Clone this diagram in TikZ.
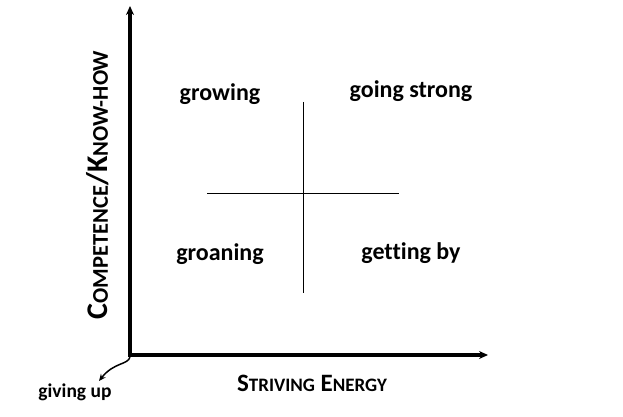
\documentclass[tikz,border=0pt]{standalone}
\usepackage{fontspec}
\setmainfont[Ligatures=NoCommon]{Carlito}
\usetikzlibrary{arrows.meta}
\begin{document}
\begin{tikzpicture}[x=1pt,y=-1pt,
  axis/.style={line width=3.2pt,-{Stealth[length=9pt,width=8pt]}},
  cross/.style={line width=0.9pt},
  quad/.style={font=\bfseries\fontsize{24}{28}\selectfont},
  small/.style={font=\bfseries\fontsize{19.5}{22}\selectfont}]
\useasboundingbox (0,0) rectangle (623,417);
\coordinate (O) at (130,355);
\coordinate (Ytop) at (130,6);
\coordinate (Xend) at (488,355);
\draw[axis] (130,356.6) -- (Ytop);
\draw[axis] (128.4,355) -- (Xend);
\coordinate (hl) at (207,193);
\coordinate (hr) at (399,193);
\coordinate (vt) at (303,102);
\coordinate (vb) at (303,293);
\draw[cross] (hl) -- (hr);
\draw[cross] (vt) -- (vb);
\node[quad] (growing) at (220,94) {growing};
\node[quad] (strong) at (411,91) {going strong};
\node[quad] (groaning) at (220,254) {groaning};
\node[quad] (getting) at (411,253) {getting by};
\node[font=\bfseries\fontsize{30}{34}\selectfont,rotate=90] (ylab) at (98,185) {C{\fontsize{22.5}{26}\selectfont OMPETENCE}/K{\fontsize{22.5}{26}\selectfont NOW-HOW}};
\node[font=\bfseries\fontsize{25}{28}\selectfont] (xlab) at (312,383) {S{\fontsize{19}{22}\selectfont TRIVING} E{\fontsize{19}{22}\selectfont NERGY}};
\node[small] (giving) at (75,392) {giving up};
\coordinate (gstart) at (130,357);
\coordinate (gtip) at (99,381);
\draw[line width=1.5pt,-{Stealth[length=7pt,width=6pt]}] (gstart) .. controls (128,365) and (114,362) .. (gtip);
\end{tikzpicture}
\end{document}
